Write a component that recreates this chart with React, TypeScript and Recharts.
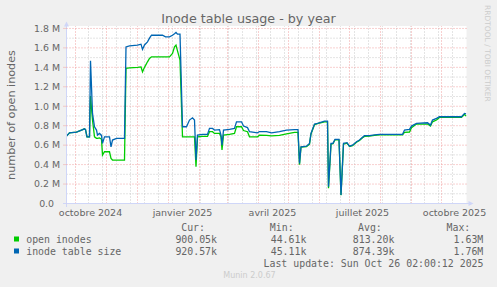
import React from 'react';
import { LineChart, Line, XAxis, YAxis, CartesianGrid, ReferenceLine } from 'recharts';

// day offsets from the left edge of the 400-day window (≈ 22 Sep 2024)
const days = [
  0, 3, 10, 15, 18, 19, 20.5, 23, 24, 25, 26, 28, 30, 31, 33, 35, 36, 38, 43, 44.5,
  46, 50, 58, 59.5, 63, 71, 74.5, 76, 78, 81, 83, 85, 96, 99, 103, 106, 108, 109.5,
  111, 113.5, 116, 120, 123, 126, 128, 129.5, 131, 136, 141, 143, 146, 148, 153,
  154.5, 155.5, 157, 163, 168, 170, 175, 177, 181, 183, 191, 193, 200, 205, 213,
  220, 228, 231.5, 233, 234.5, 240, 243, 244.5, 248, 251, 258, 261, 262, 264.5,
  266.5, 268.5, 272.5, 274.5, 277, 280.5, 283, 286, 290, 293, 296, 298, 303, 308,
  313, 336, 338, 343, 345, 350, 361, 364, 366, 370, 373, 395, 398, 399.5,
];

// inode table size (blue)
const inodeTableSize = [
  693000, 727000, 734000, 755000, 768000, 760000, 686000, 686000, 1467000, 1200000,
  926000, 789000, 755000, 703000, 720000, 700000, 618000, 686000, 686000, 583000,
  652000, 670000, 670000, 1610000, 1620000, 1628000, 1638000, 1584000, 1630000, 1662000,
  1700000, 1730000, 1730000, 1713000, 1713000, 1730000, 1745000, 1758000,
  1741000, 1741000, 789000, 789000, 858000, 881000, 858000, 447000, 703000, 710000, 710000,
  772000, 772000, 755000, 760000,
  703000, 600000, 755000, 762000, 772000, 840000, 840000, 796000, 780000, 738000, 727000,
  740000, 740000, 727000, 740000,
  755000, 760000, 760000, 413000, 583000, 590000, 618000, 720000, 817000, 824000, 847000,
  847000, 173000, 618000,
  618000, 660000, 660000, 87000, 618000, 625000, 590000, 600000, 635000, 652000, 680000,
  697000, 697000, 705000,
  710000, 710000, 755000, 762000, 796000, 824000, 830000, 806000, 858000, 875000, 892000,
  892000, 926000, 921000,
];

// open inodes (green)
const openInodes = [
  693000, 727000, 734000, 755000, 768000, 760000, 686000, 686000, 1104000, 980000,
  858000, 686000, 670000, 670000, 675000, 660000, 498000, 532000, 532000, 464000,
  447000, 447000, 447000, 1389000, 1395000, 1400000, 1405000, 1354000, 1400000, 1457000,
  1491000, 1508000, 1508000, 1508000, 1508000, 1543000, 1610000, 1628000,
  1570000, 1474000, 686000, 686000, 686000, 686000, 686000, 378000, 686000, 690000, 690000,
  738000, 738000, 720000, 720000,
  686000, 550000, 703000, 710000, 720000, 789000, 789000, 750000, 738000, 686000, 686000,
  703000, 700000, 695000, 700000,
  715000, 731000, 731000, 400000, 580000, 585000, 610000, 715000, 810000, 820000, 840000,
  840000, 156000, 610000,
  615000, 655000, 655000, 85000, 610000, 620000, 585000, 595000, 630000, 648000, 675000,
  690000, 693000, 700000,
  705000, 705000, 731000, 735000, 780000, 817000, 817000, 796000, 840000, 858000, 885000,
  885000, 916000, 900000,
];

const xTickDays = [24, 116, 206, 296, 388];
const xTickLabels = ['octobre 2024', 'janvier 2025', 'avril 2025', 'juillet 2025', 'octobre 2025'];
const monthStartDays = [9, 40, 71, 102, 133, 161, 192, 222, 253, 283, 314, 345, 375];
const biweeklyDays = [
  22, 36, 50, 64, 78, 92, 106, 120, 134, 148, 162, 176, 190, 204, 218, 232, 246, 260,
  274, 288, 302, 316, 330, 344, 358, 372, 386,
];
const yTicks = [0, 200000, 400000, 600000, 800000, 1000000, 1200000, 1400000, 1600000, 1800000];
const yMinor = [100000, 300000, 500000, 700000, 900000, 1100000, 1300000, 1500000, 1700000];

const seriesNames = ['open inodes', 'inode table size'];
const seriesColors = ['#00cc00', '#0066b3'];
const legendHeaders = ['Cur:', 'Min:', 'Avg:', 'Max:'];
const curValues = ['900.05k', '920.57k'];
const minValues = ['44.61k', '45.11k'];
const avgValues = ['813.20k', '874.39k'];
const maxValues = ['1.63M', '1.76M'];
const lastUpdate = 'Last update: Sun Oct 26 02:00:12 2025';

const data = days.map((d, i) => ({ day: d, open: openInodes[i], size: inodeTableSize[i] }));

const FONT = "'DejaVu Sans', sans-serif";
const MONO = "'DejaVu Sans Mono', monospace";
const TXT = '#666666';
const AXIS = '#cfd6f8';
const GRID = '#c8c8c8';
const MGRID = '#f0a0a0';

const fmtY = (v: number) => (v === 0 ? '0.0\u00a0\u00a0' : (v / 1e6).toFixed(1) + ' M');
const fmtX = (v: number) => {
  const i = xTickDays.indexOf(v);
  return i >= 0 ? xTickLabels[i] : '';
};

export default function App() {
  const headerX = [181.2, 269.8, 358, 446.5];
  const valueEnd = [217, 306.4, 394.4, 483.3];
  const cols = [curValues, minValues, avgValues, maxValues];
  return (
    <div style={{ position: 'absolute', left: 0, top: 0, width: 497, height: 287, background: '#f0f0f0' }}>
      <LineChart
        width={497}
        height={287}
        data={data}
        margin={{ top: 26, right: 30.5, left: 0, bottom: 0 }}
      >
        <CartesianGrid horizontal={false} vertical={false} fill="#ffffff" stroke="none" />
        {biweeklyDays.map((d) => (
          <ReferenceLine key={'b' + d} x={d} stroke={GRID} strokeDasharray="1 2" />
        ))}
        {yMinor.map((v) => (
          <ReferenceLine key={'m' + v} y={v} stroke={GRID} strokeDasharray="1 2" />
        ))}
        {monthStartDays.map((d) => (
          <ReferenceLine key={'M' + d} x={d} stroke={MGRID} strokeDasharray="1 2" />
        ))}
        {yTicks.filter((v) => v > 0).map((v) => (
          <ReferenceLine key={'Y' + v} y={v} stroke={MGRID} strokeDasharray="1 2" />
        ))}
        <XAxis
          dataKey="day"
          type="number"
          domain={[0, 400]}
          ticks={xTickDays}
          tickFormatter={fmtX}
          interval={0}
          height={83.5}
          tickSize={0}
          tickMargin={6}
          axisLine={{ stroke: AXIS }}
          tick={{ fill: TXT, fontSize: 9.5, fontFamily: FONT }}
        />
        <YAxis
          type="number"
          domain={[0, 1825000]}
          ticks={yTicks}
          tickFormatter={fmtY}
          interval={0}
          width={66.5}
          tickSize={3}
          tickMargin={3.5}
          axisLine={{ stroke: AXIS }}
          tickLine={{ stroke: MGRID, strokeDasharray: '1 1' }}
          tick={{ fill: TXT, fontSize: 9.4, fontFamily: FONT }}
        />
        <Line
          dataKey="open"
          stroke={seriesColors[0]}
          strokeWidth={1.3}
          dot={false}
          type="linear"
          isAnimationActive={false}
        />
        <Line
          dataKey="size"
          stroke={seriesColors[1]}
          strokeWidth={1.3}
          dot={false}
          type="linear"
          isAnimationActive={false}
        />
      </LineChart>
      <svg
        width={497}
        height={287}
        style={{ position: 'absolute', left: 0, top: 0, pointerEvents: 'none' }}
      >
        <text x={248.5} y={22.5} textAnchor="middle" fontSize={12.7} fontFamily={FONT} fill={TXT}>
          Inode table usage - by year
        </text>
        <text
          transform="translate(14.5,115) rotate(-90)"
          textAnchor="middle"
          fontSize={11.2}
          fontFamily={FONT}
          fill={TXT}
        >
          number of open inodes
        </text>
        <text transform="translate(485,5) rotate(90)" fontSize={7.5} fontFamily={FONT} fill="#cccccc">
          RRDTOOL / TOBI OETIKER
        </text>
        <line x1={66.5} y1={203.5} x2={66.5} y2={207} stroke={AXIS} />
        <line x1={63} y1={203.5} x2={66.5} y2={203.5} stroke={AXIS} />
        <line x1={466} y1={203.5} x2={469} y2={203.5} stroke={AXIS} />
        <line x1={66.5} y1={26.5} x2={66.5} y2={24} stroke={AXIS} />
        <polygon points="64,26.5 69,26.5 66.5,21.5" fill={AXIS} />
        <polygon points="468.5,201 468.5,206 473.5,203.5" fill={AXIS} />
        {legendHeaders.map((h, i) => (
          <text key={h} x={headerX[i]} y={231} fontSize={9.9} fontFamily={MONO} fill={TXT}>
            {h}
          </text>
        ))}
        {seriesNames.map((n, r) => (
          <g key={n}>
            <rect x={14} y={236.5 + r * 12} width={5} height={5} fill={seriesColors[r]} />
            <text x={26.2} y={243 + r * 12} fontSize={9.9} fontFamily={MONO} fill={TXT}>
              {n}
            </text>
            {cols.map((c, ci) => (
              <text
                key={ci}
                x={valueEnd[ci]}
                y={243 + r * 12}
                textAnchor="end"
                fontSize={9.9}
                fontFamily={MONO}
                fill={TXT}
              >
                {c[r]}
              </text>
            ))}
          </g>
        ))}
        <text x={483.5} y={267} textAnchor="end" fontSize={9.9} fontFamily={MONO} fill={TXT}>
          {lastUpdate}
        </text>
        <text x={249.5} y={278.3} textAnchor="middle" fontSize={8} fontFamily={FONT} fill="#cccccc">
          Munin 2.0.67
        </text>
      </svg>
    </div>
  );
}
